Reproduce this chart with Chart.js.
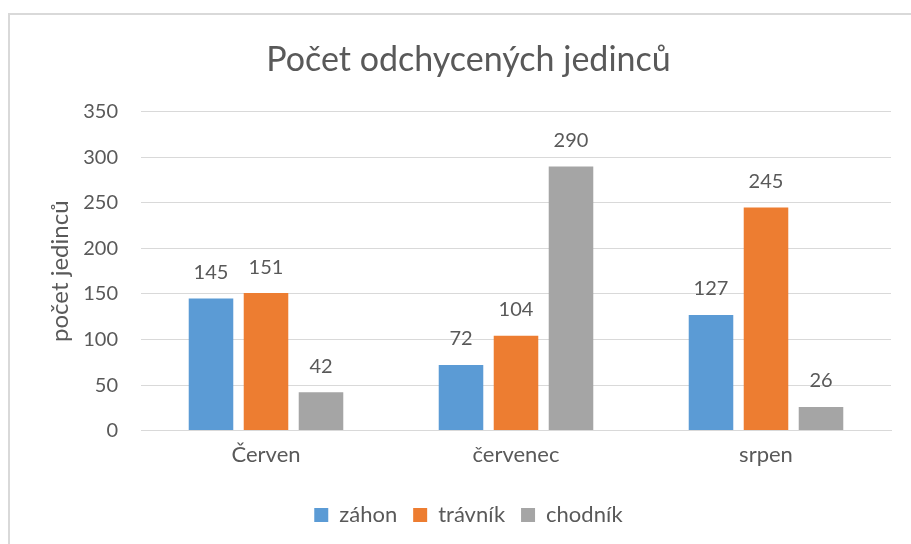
<!DOCTYPE html>
<html>
<head>
<meta charset="utf-8">
<script src="https://cdn.jsdelivr.net/npm/chart.js@4"></script>
<style>
  html, body { margin: 0; padding: 0; background: #fff; }
  #wrap { width: 911px; height: 544px; position: relative; }
</style>
</head>
<body>
<div id="wrap"><canvas id="myChart" width="911" height="544"></canvas></div>
<script>
var months = ["Červen", "červenec", "srpen"];
var zahon = [145, 72, 127];
var travnik = [151, 104, 245];
var chodnik = [42, 290, 26];

var FONT = "Lato, 'Open Sans', sans-serif";
var GREY = "#595959";

// frame of the chart object (left and top edge visible)
var framePlugin = {
    id: "frame",
    beforeDraw: function (chart) {
        var c = chart.ctx;
        c.save();
        c.strokeStyle = "#d9d9d9";
        c.lineWidth = 2;
        c.beginPath();
        c.moveTo(9, 600);
        c.lineTo(9, 14);
        c.lineTo(920, 14);
        c.stroke();
        c.restore();
    }
};

// values above bars
var valuePlugin = {
    id: "values",
    afterDatasetsDraw: function (chart) {
        var c = chart.ctx;
        c.save();
        c.font = "20px " + FONT;
        c.fillStyle = GREY;
        c.textAlign = "center";
        c.textBaseline = "middle";
        chart.data.datasets.forEach(function (ds, i) {
            chart.getDatasetMeta(i).data.forEach(function (bar, j) {
                c.fillText(ds.data[j], bar.x, bar.y - 26);
            });
        });
        c.restore();
    }
};

var ctx = document.getElementById("myChart");
var myChart = new Chart(ctx, {
    type: "bar",
    data: {
        labels: months,
        datasets: [
            { label: "záhon", data: zahon, backgroundColor: "#5B9BD5" },
            { label: "trávník", data: travnik, backgroundColor: "#ED7D31" },
            { label: "chodník", data: chodnik, backgroundColor: "#A5A5A5" }
        ]
    },
    options: {
        responsive: false,
        animation: false,
        layout: { padding: { top: 40, left: 46, right: 20, bottom: 8 } },
        datasets: { bar: { categoryPercentage: 0.66, barPercentage: 0.81 } },
        plugins: {
            title: {
                display: true,
                text: "Počet odchycených jedinců",
                color: GREY,
                font: { family: FONT, size: 34, weight: "normal" },
                padding: { top: 0, bottom: 31 }
            },
            legend: {
                position: "bottom",
                labels: {
                    color: GREY,
                    font: { family: FONT, size: 22 },
                    boxWidth: 14,
                    boxHeight: 14,
                    padding: 16
                }
            },
            tooltip: { enabled: false }
        },
        scales: {
            x: {
                afterFit: function (scale) { scale.height += 9; },
                grid: { display: false, drawTicks: false },
                border: { color: "#d9d9d9", width: 1 },
                ticks: { color: GREY, font: { family: FONT, size: 22 }, padding: 11 }
            },
            y: {
                min: 0,
                max: 350,
                afterFit: function (scale) { scale.width = 95; },
                ticks: { stepSize: 50, color: GREY, font: { family: FONT, size: 20 }, padding: 23 },
                grid: { color: "#d9d9d9", drawTicks: false },
                border: { display: false },
                title: {
                    display: true,
                    text: "počet jedinců",
                    color: GREY,
                    font: { family: FONT, size: 24 },
                    padding: { top: 0, bottom: 0 }
                }
            }
        }
    },
    plugins: [framePlugin, valuePlugin]
});
</script>
</body>
</html>
